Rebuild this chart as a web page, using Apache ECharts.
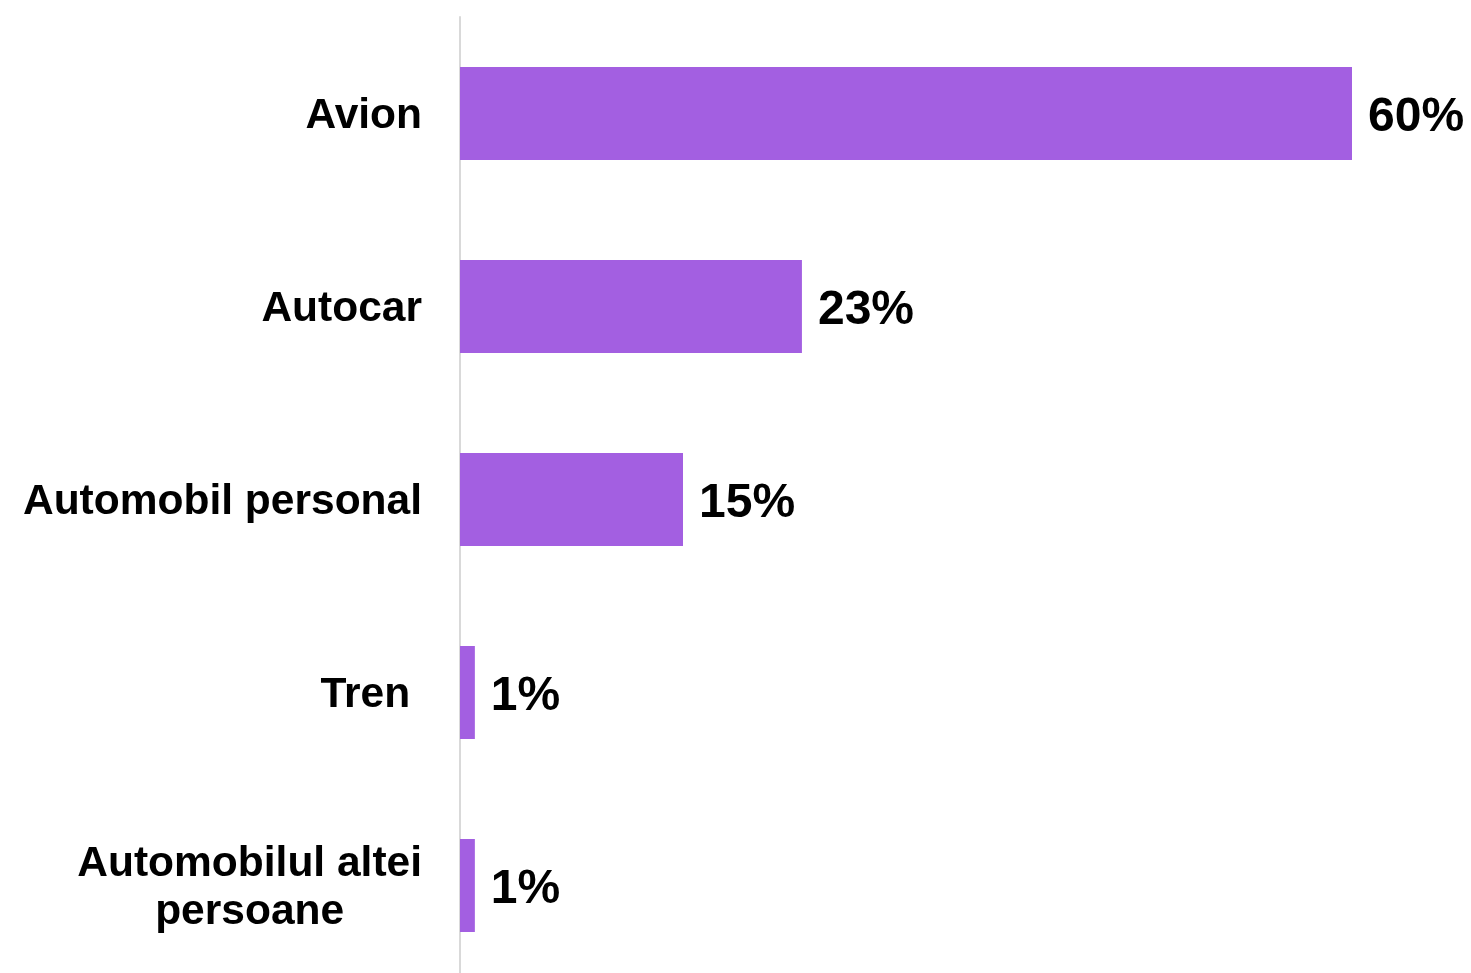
<!DOCTYPE html>
<html>
<head>
<meta charset="utf-8">
<script src="https://cdn.jsdelivr.net/npm/echarts@6/dist/echarts.min.js"></script>
<style>html,body{margin:0;padding:0;background:#fff;overflow:hidden;}#c{width:1471px;height:990px;}</style>
</head>
<body>
<div id="c"></div>
<script>
var categories = ['Avion', 'Autocar', 'Automobil personal', 'Tren', 'Automobilul altei persoane'];
var values = [60, 23, 15, 1, 1];

var chart = echarts.init(document.getElementById('c'));
chart.setOption({
  animation: false,
  grid: { left: 460, top: 17, height: 965, width: 892 },
  xAxis: {
    type: 'value', min: 0, max: 60, show: false
  },
  yAxis: {
    type: 'category',
    data: categories,
    inverse: true,
    axisLine: { show: true, lineStyle: { color: '#d9d9d9', width: 2 } },
    axisTick: { show: false },
    axisLabel: {
      margin: 38,
      padding: [6, 0, 0, 0],
      fontFamily: 'Liberation Sans, Arial, sans-serif',
      fontWeight: 'bold',
      fontSize: 42.5,
      color: '#000',
      lineHeight: 48,
      formatter: function (v) {
        if (v === 'Automobilul altei persoane') return '{c|Automobilul altei}\n{c|persoane}';
        if (v === 'Tren') return 'Tren ';
        return v;
      },
      rich: {
        c: { align: 'center', fontFamily: 'Liberation Sans, Arial, sans-serif', fontWeight: 'bold', fontSize: 42.5, lineHeight: 48, color: '#000' }
      }
    }
  },
  series: [{
    type: 'bar',
    data: values,
    barWidth: 93,
    itemStyle: { color: '#A35FE1' },
    label: {
      show: true,
      position: 'right',
      distance: 16,
      offset: [0, 4],
      formatter: '{c}%',
      fontFamily: 'Liberation Sans, Arial, sans-serif',
      fontWeight: 'bold',
      fontSize: 48,
      color: '#000'
    }
  }]
});
</script>
</body>
</html>
